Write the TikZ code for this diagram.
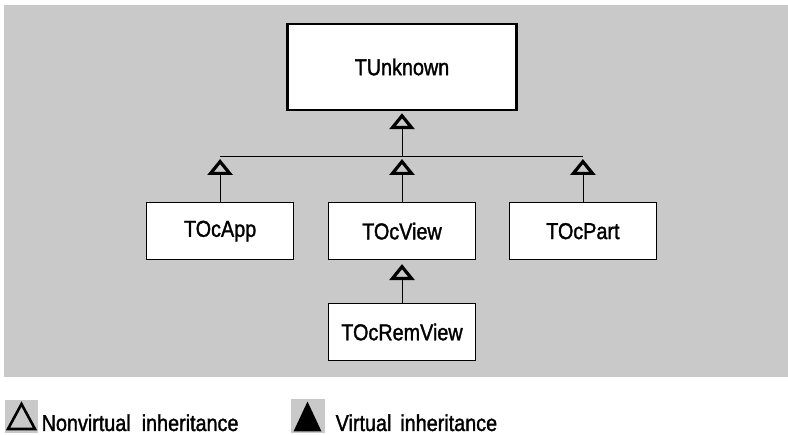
\documentclass[tikz,border=0pt]{standalone}
\usepackage{fontspec}
\setmainfont[FakeStretch=0.86, FakeBold=1.4]{Liberation Sans}
\usetikzlibrary{arrows.meta,positioning}
\definecolor{paper}{gray}{0.79}
\tikzset{
    classbox/.style={draw, fill=white, line width=0.9pt, minimum width=147pt, minimum height=57pt, inner sep=0pt, font=\fontsize{23}{27}\selectfont},
    rootbox/.style={classbox, line width=2.4pt, minimum width=229pt, minimum height=86pt},
    inherit/.style={-{Triangle[open, length=16pt, width=25pt, line width=3.2pt]}, line width=0.8pt, shorten >=3pt},
    legendicon/.style={fill=paper, minimum size=33pt, inner sep=0pt},
    legendtext/.style={anchor=base west, inner sep=0pt, font=\fontsize{23}{27}\selectfont}
}

\begin{document}
\begin{tikzpicture}[x=1pt, y=-1pt]
    \useasboundingbox (0,0) rectangle (788,435);
    \fill[paper] (4,5) rectangle (788,377);

    \node[rootbox] (unknown) at (402,67) {TUnknown};
    \node[classbox, below=91pt of unknown] (view) {TOcView};
    \node[classbox, left=34pt of view] (app) {TOcApp};
    \node[classbox, right=33pt of view] (part) {TOcPart};
    \node[classbox, below=43pt of view] (remview) {TOcRemView};

    \coordinate (bar) at (402,156);
    \draw[line width=0.8pt] (app |- bar) -- (part |- bar);
    \draw[inherit, shorten >=2pt] (bar) -- (unknown);
    \draw[inherit] (app) -- (app |- bar);
    \draw[inherit] (view) -- (bar);
    \draw[inherit] (part) -- (part |- bar);
    \draw[inherit, shorten >=4pt] (remview) -- (view);

    % legend
    \node[legendicon] (nvicon) at (21.5,416.5) {};
    \draw[line width=2.6pt] ([shift={(-13.5,12.5)}]nvicon.center) -- ([shift={(0,-12.5)}]nvicon.center)
        -- ([shift={(13.5,12.5)}]nvicon.center) -- cycle;
    \node[legendtext] (nvtext) at (41.5,431) {Nonvirtual\hspace{11pt}inheritance};

    \node[legendicon, minimum size=34pt] (vicon) at (307.5,416.5) {};
    \fill ([shift={(-14,15)}]vicon.center) -- ([shift={(0,-15)}]vicon.center)
        -- ([shift={(14,15)}]vicon.center) -- cycle;
    \node[legendtext] (vtext) at (335.5,431) {Virtual\hspace{9pt}inheritance};
\end{tikzpicture}
\end{document}
